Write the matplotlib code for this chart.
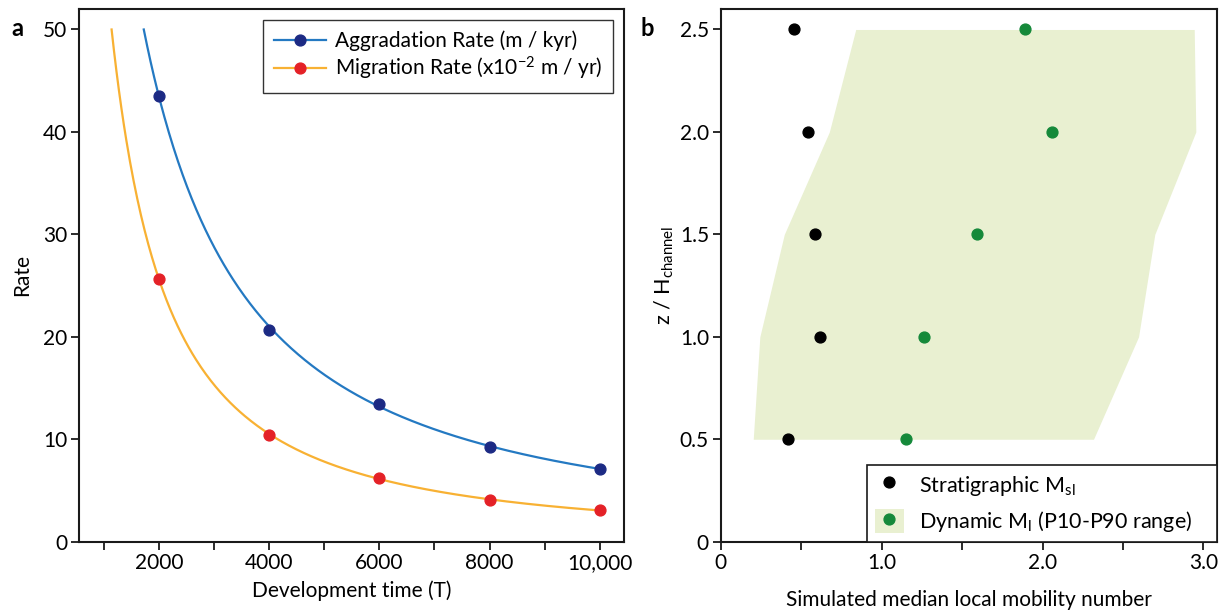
import numpy as np
import matplotlib
matplotlib.use("Agg")
import matplotlib.pyplot as plt
from matplotlib.patches import Patch
from matplotlib.lines import Line2D
from matplotlib.legend_handler import HandlerTuple
from matplotlib.ticker import FuncFormatter, MultipleLocator

FONT = "Lato"
plt.rcParams["font.family"] = [FONT, "DejaVu Sans"]
plt.rcParams["mathtext.fontset"] = "custom"
plt.rcParams["mathtext.rm"] = FONT
plt.rcParams["mathtext.it"] = FONT
plt.rcParams["mathtext.bf"] = FONT + ":bold"
plt.rcParams["font.size"] = 15

# ---- panel a data ----
dev_time = np.array([2000, 4000, 6000, 8000, 10000])
aggradation_rate = np.array([43.5, 20.7, 13.46, 9.27, 7.09])      # m / kyr
migration_rate = np.array([25.6, 10.41, 6.24, 4.07, 3.06])         # x10^-2 m / yr

# ---- panel b data ----
z_levels = np.array([0.5, 1.0, 1.5, 2.0, 2.5])
strat_msl = np.array([0.419, 0.614, 0.588, 0.543, 0.456])
dynamic_ml = np.array([1.153, 1.265, 1.590, 2.061, 1.889])
ml_p10 = np.array([0.202, 0.243, 0.395, 0.675, 0.839])
ml_p90 = np.array([2.317, 2.597, 2.698, 2.953, 2.943])

BLUE_LINE = "#2479c2"
BLUE_DOT = "#1c2a84"
ORANGE_LINE = "#f8b133"
RED_DOT = "#e42127"
GREEN_DOT = "#15893a"
GREEN_FILL = "#e9f0d1"


def fit_decay(t, y):
    """Least-squares fit of y = A * (t + c) ** (-n) in log space."""
    best = None
    for c in np.linspace(0, 3000, 601):
        X = np.log(t + c)
        slope, icpt = np.polyfit(X, np.log(y), 1)
        res = np.sum((slope * X + icpt - np.log(y)) ** 2)
        if best is None or res < best[0]:
            best = (res, c, slope, icpt)
    _, c, slope, icpt = best
    return c, slope, icpt


def fitted_curve(t, y, ytop, tend):
    c, slope, icpt = fit_decay(t, y)
    tstart = np.exp((np.log(ytop) - icpt) / slope) - c
    tt = np.linspace(tstart, tend, 400)
    return tt, np.exp(icpt) * (tt + c) ** slope


fig = plt.figure(figsize=(12.27, 6.12), dpi=100)
ax1 = fig.add_axes([0.0646, 0.1149, 0.4439, 0.8704])
ax2 = fig.add_axes([0.5874, 0.1149, 0.4045, 0.8704])

for ax in (ax1, ax2):
    for sp in ax.spines.values():
        sp.set_linewidth(1.5)
        sp.set_color("#1a1a1a")
    ax.tick_params(which="both", direction="out", length=5.5, width=1.3,
                   color="#1a1a1a", labelsize=15, pad=3)

# ---- panel a ----
tt, yy = fitted_curve(dev_time, aggradation_rate, 50, dev_time[-1])
ax1.plot(tt, yy, color=BLUE_LINE, lw=1.6, zorder=2)
tt, yy = fitted_curve(dev_time, migration_rate, 50, dev_time[-1])
ax1.plot(tt, yy, color=ORANGE_LINE, lw=1.6, zorder=2)
ax1.plot(dev_time, aggradation_rate, "o", color=BLUE_DOT, ms=7.8, zorder=3)
ax1.plot(dev_time, migration_rate, "o", color=RED_DOT, ms=7.8, zorder=3)

ax1.set_xlim(550, 10440)
ax1.set_ylim(0, 52)
ax1.xaxis.set_major_locator(MultipleLocator(2000))
ax1.xaxis.set_minor_locator(MultipleLocator(1000))
ax1.yaxis.set_major_locator(MultipleLocator(10))
ax1.xaxis.set_major_formatter(FuncFormatter(
    lambda v, p: f"{int(v):,}" if v >= 10000 else f"{int(v)}"))
ax1.set_xlabel("Development time (T)", labelpad=5)
ax1.set_ylabel("Rate", labelpad=8)

h_agg = Line2D([], [], color=BLUE_LINE, lw=1.6, marker="o", ms=7.8,
               markerfacecolor=BLUE_DOT, markeredgecolor=BLUE_DOT)
h_mig = Line2D([], [], color=ORANGE_LINE, lw=1.6, marker="o", ms=7.8,
               markerfacecolor=RED_DOT, markeredgecolor=RED_DOT)
leg1 = ax1.legend([h_agg, h_mig],
                  ["Aggradation Rate (m / kyr)",
                   "Migration Rate (x10$^{-2}$ m / yr)"],
                  loc="upper right", bbox_to_anchor=(0.98, 0.979),
                  borderaxespad=0,
                  frameon=True, fancybox=False, framealpha=1,
                  edgecolor="#333333", handlelength=2.5, handletextpad=0.45,
                  labelspacing=0.18, borderpad=0.5, fontsize=15)
leg1.get_frame().set_linewidth(1.0)

fig.text(0.009, 0.953, "a", fontsize=17, fontweight="bold", va="center")

# ---- panel b ----
ax2.fill_betweenx(z_levels, ml_p10, ml_p90, color=GREEN_FILL, lw=0, zorder=1)
ax2.plot(strat_msl, z_levels, "o", color="black", ms=7.8, zorder=3)
ax2.plot(dynamic_ml, z_levels, "o", color=GREEN_DOT, ms=7.8, zorder=3)

ax2.set_xlim(0, 3.085)
ax2.set_ylim(0, 2.6)
ax2.set_xticks([0, 1, 2, 3])
ax2.set_xticklabels(["0", "1.0", "2.0", "3.0"])
ax2.xaxis.set_minor_locator(MultipleLocator(0.5))
ax2.set_yticks([0, 0.5, 1.0, 1.5, 2.0, 2.5])
ax2.set_yticklabels(["0", "0.5", "1.0", "1.5", "2.0", "2.5"])
ax2.set_xlabel("Simulated median local mobility number", labelpad=12)
ax2.set_ylabel("z / H$_{\\mathrm{channel}}$", labelpad=3, fontsize=15.5)

h_strat = Line2D([], [], ls="none", marker="o", ms=7.8, color="black")
h_dyn_patch = Patch(facecolor=GREEN_FILL, edgecolor="none")
h_dyn_dot = Line2D([], [], ls="none", marker="o", ms=7.8, color=GREEN_DOT)
leg2 = ax2.legend([h_strat, (h_dyn_patch, h_dyn_dot)],
                  ["Stratigraphic M$_{\\mathrm{sl}}$",
                   "Dynamic M$_{\\mathrm{l}}$ (P10-P90 range)"],
                  handler_map={tuple: HandlerTuple(ndivide=1, pad=0)},
                  loc="lower left", bbox_to_anchor=(0.295, 0.0, 0.705, 0.2),
                  mode="expand",
                  borderaxespad=0, frameon=True, fancybox=False,
                  framealpha=1, edgecolor="#1a1a1a", handlelength=1.35,
                  handleheight=1.35, handletextpad=0.7, labelspacing=0.5,
                  borderpad=0.35, fontsize=15.5)
leg2.get_frame().set_linewidth(1.2)

fig.text(0.522, 0.953, "b", fontsize=17, fontweight="bold", va="center")

fig.savefig("out.png", dpi=100)
